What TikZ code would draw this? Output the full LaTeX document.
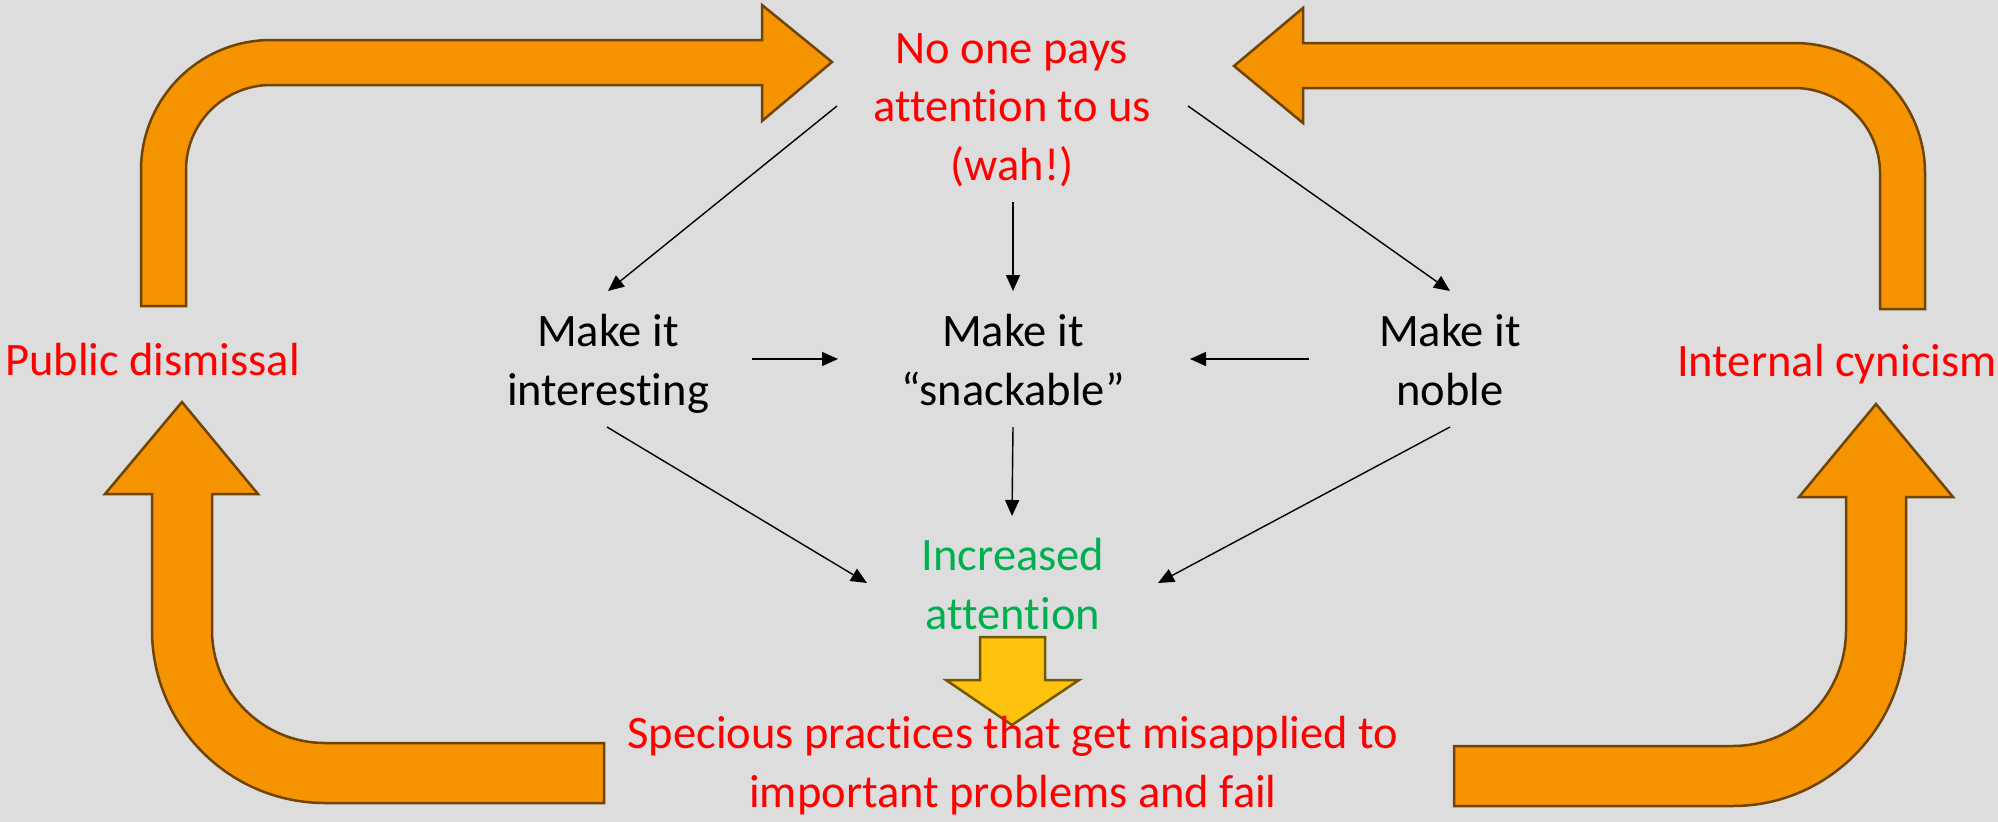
\documentclass[tikz,border=0pt]{standalone}
\usepackage{fontspec}
\setmainfont{Carlito}[Ligatures=NoCommon]
\usetikzlibrary{arrows.meta}

\definecolor{canvas}{RGB}{221,221,221}
\definecolor{loopfill}{RGB}{245,147,0}
\definecolor{loopline}{RGB}{110,68,8}
\definecolor{goldfill}{RGB}{255,194,14}
\definecolor{goldline}{RGB}{115,88,0}
\definecolor{txtred}{RGB}{255,0,0}
\definecolor{txtgreen}{RGB}{0,176,80}

\begin{document}
\begin{tikzpicture}[x=1pt,y=-1pt,
  % multi-line labels are placed by the baseline of their last line
  lbl/.style={font=\fontsize{46.5}{58.5}\selectfont, align=center, inner sep=0pt, anchor=base},
  flow/.style={draw=black, line width=1.4pt, -{Triangle[length=16pt,width=14pt]}},
  loop/.style={fill=loopfill, draw=loopline, line width=2.5pt, line join=miter},
  gold/.style={fill=goldfill, draw=goldline, line width=2.5pt, line join=miter},
]
% background and page size
\fill[canvas] (0,0) rectangle (1998,822);
\useasboundingbox (0,0) rectangle (1998,822);

% big feedback arrows
\draw[loop] (141,306) -- (141,170) .. controls (141,98.2) and (199.2,40) .. (271,40)
  -- (762,40) -- (762,5) -- (832,62) -- (762,121) -- (762,85) -- (271,85)
  .. controls (224,85) and (186,123) .. (186,170) -- (186,306) -- cycle;
\draw[loop] (1925,309) -- (1925,173) .. controls (1925,101) and (1866,43) .. (1794,43)
  -- (1303,43) -- (1303,8) -- (1234,66) -- (1303,123) -- (1303,88) -- (1794,88)
  .. controls (1841,88) and (1880,126) .. (1880,173) -- (1880,309) -- cycle;
\draw[loop] (604,803) -- (325,803) .. controls (229.5,803) and (152,725.5) .. (152,630)
  -- (152,494) -- (105,494) -- (182,402) -- (258,494) -- (212,494) -- (212,630)
  .. controls (212,692.4) and (262.6,743) .. (325,743) -- (604,743) -- cycle;
\draw[loop] (1454,806) -- (1733,806) .. controls (1828.5,806) and (1906,727) .. (1906,630)
  -- (1906,497) -- (1953,497) -- (1876,404) -- (1799,497) -- (1846,497) -- (1846,630)
  .. controls (1846,694) and (1795.4,746) .. (1733,746) -- (1454,746) -- cycle;

% short down arrow
\draw[gold] (980,637) -- (1045,637) -- (1045,680) -- (1079,680) -- (1012,725)
  -- (946,680) -- (980,680) -- cycle;

% labels
\node[lbl, text=txtred] (top) at (1012,180) {No one pays\\attention to us\\(wah!)};
\node[lbl] (interesting) at (608,405) {Make it\\interesting};
\node[lbl] (snackable) at (1013,405) {Make it\\“snackable”};
\node[lbl] (noble) at (1450,405) {Make it\\noble};
\node[lbl, text=txtred, anchor=base west] (dismissal) at (5,375) {Public dismissal};
\node[lbl, text=txtred, anchor=base west] (cynicism) at (1677,376) {Internal cynicism};
\node[lbl, text=txtgreen] (increased) at (1013,629) {Increased\\attention};
\node[lbl, text=txtred] (specious) at (1013,807) {Specious practices that get misapplied to\\important problems and fail};

% connector end points
\coordinate (t1) at (837,106);  \coordinate (i1) at (608,291);
\coordinate (t2) at (1013,202); \coordinate (s1) at (1013,291);
\coordinate (t3) at (1188,106); \coordinate (n1) at (1450,291);
\coordinate (i2) at (752,359);  \coordinate (s2) at (838,359);
\coordinate (n2) at (1309,359); \coordinate (s3) at (1190,359);
\coordinate (i3) at (607,427);  \coordinate (a1) at (867,583);
\coordinate (s4) at (1013,427); \coordinate (a2) at (1012,516);
\coordinate (n3) at (1450,427); \coordinate (a3) at (1158,583);

\draw[flow] (t1) -- (i1);
\draw[flow] (t2) -- (s1);
\draw[flow] (t3) -- (n1);
\draw[flow] (i2) -- (s2);
\draw[flow] (n2) -- (s3);
\draw[flow] (i3) -- (a1);
\draw[flow] (s4) -- (a2);
\draw[flow] (n3) -- (a3);
\end{tikzpicture}
\end{document}
